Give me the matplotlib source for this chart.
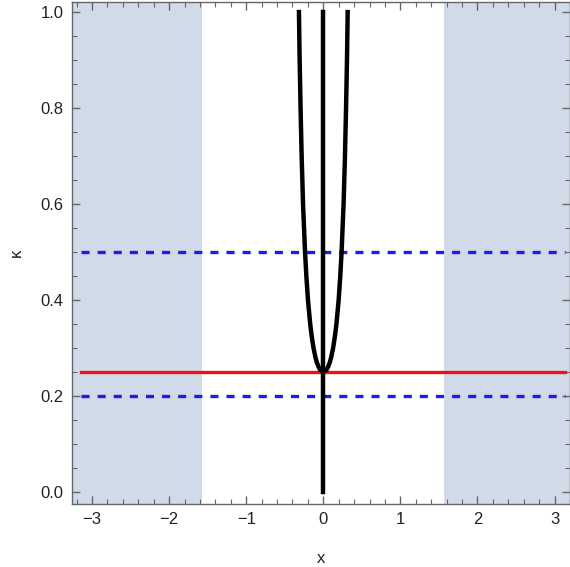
import numpy as np
import matplotlib.pyplot as plt
from matplotlib.ticker import MultipleLocator, FormatStrFormatter

# right branch of the U-shaped curve (left branch is mirrored)
kappa_curve = [0.25, 0.255, 0.26, 0.27, 0.28, 0.30, 0.325, 0.35, 0.40, 0.45,
               0.50, 0.60, 0.70, 0.80, 0.90, 1.0]
x_curve = [0.0, 0.042, 0.060, 0.084, 0.101, 0.127, 0.151, 0.170, 0.199, 0.220,
           0.237, 0.263, 0.281, 0.295, 0.307, 0.316]

# horizontal reference levels
kappa_red = 0.25
kappa_blue = [0.5, 0.2]

# shaded bands |x| > pi/2
band_edge = np.pi / 2

plt.rcParams['lines.scale_dashes'] = False
plt.rcParams['font.family'] = ['Liberation Sans', 'DejaVu Sans']
fig = plt.figure(figsize=(5.7, 5.67), dpi=100)
ax = fig.add_axes([72 / 570, 63 / 567, 498 / 570, 502 / 567])

xmin, xmax = -3.26, 3.20
ymin, ymax = -0.025, 1.021
shade = '#d0dae8'
ax.axvspan(xmin, -band_edge, color=shade, lw=0, zorder=0)
ax.axvspan(band_edge, xmax, color=shade, lw=0, zorder=0)

for k in kappa_blue:
    ax.plot([-np.pi, np.pi], [k, k], color='#1c1cf2', lw=2.4,
            dashes=(5.8, 5.8), zorder=2)
ax.plot([-np.pi, np.pi], [kappa_red, kappa_red], color='#ee1111', lw=2.4, zorder=3)

xs = np.array(x_curve)
ks = np.array(kappa_curve)
ax.plot(np.concatenate([-xs[::-1], xs]), np.concatenate([ks[::-1], ks]),
        color='black', lw=3.2, solid_joinstyle='round', zorder=4)
ax.plot([0, 0], [0, 1], color='black', lw=3.2, zorder=4)

ax.set_xlim(xmin, xmax)
ax.set_ylim(ymin, ymax)
ax.xaxis.set_major_locator(MultipleLocator(1))
ax.xaxis.set_minor_locator(MultipleLocator(0.2))
ax.yaxis.set_major_locator(MultipleLocator(0.2))
ax.yaxis.set_minor_locator(MultipleLocator(0.05))
ax.yaxis.set_major_formatter(FormatStrFormatter('%.1f'))

axis_gray = '#666666'
for s in ax.spines.values():
    s.set_color(axis_gray)
    s.set_linewidth(1.0)
ax.tick_params(which='both', direction='in', top=True, right=True,
               color=axis_gray, labelsize=12, labelcolor='#222222')
ax.tick_params(which='major', length=6, width=1.0, pad=6)
ax.tick_params(which='minor', length=3.5, width=0.8)

ax.set_xlabel('x', fontsize=12, color='#222222', labelpad=17)
ax.set_ylabel('κ', fontsize=12, color='#222222', labelpad=12)

fig.savefig('out.png', dpi=100)
